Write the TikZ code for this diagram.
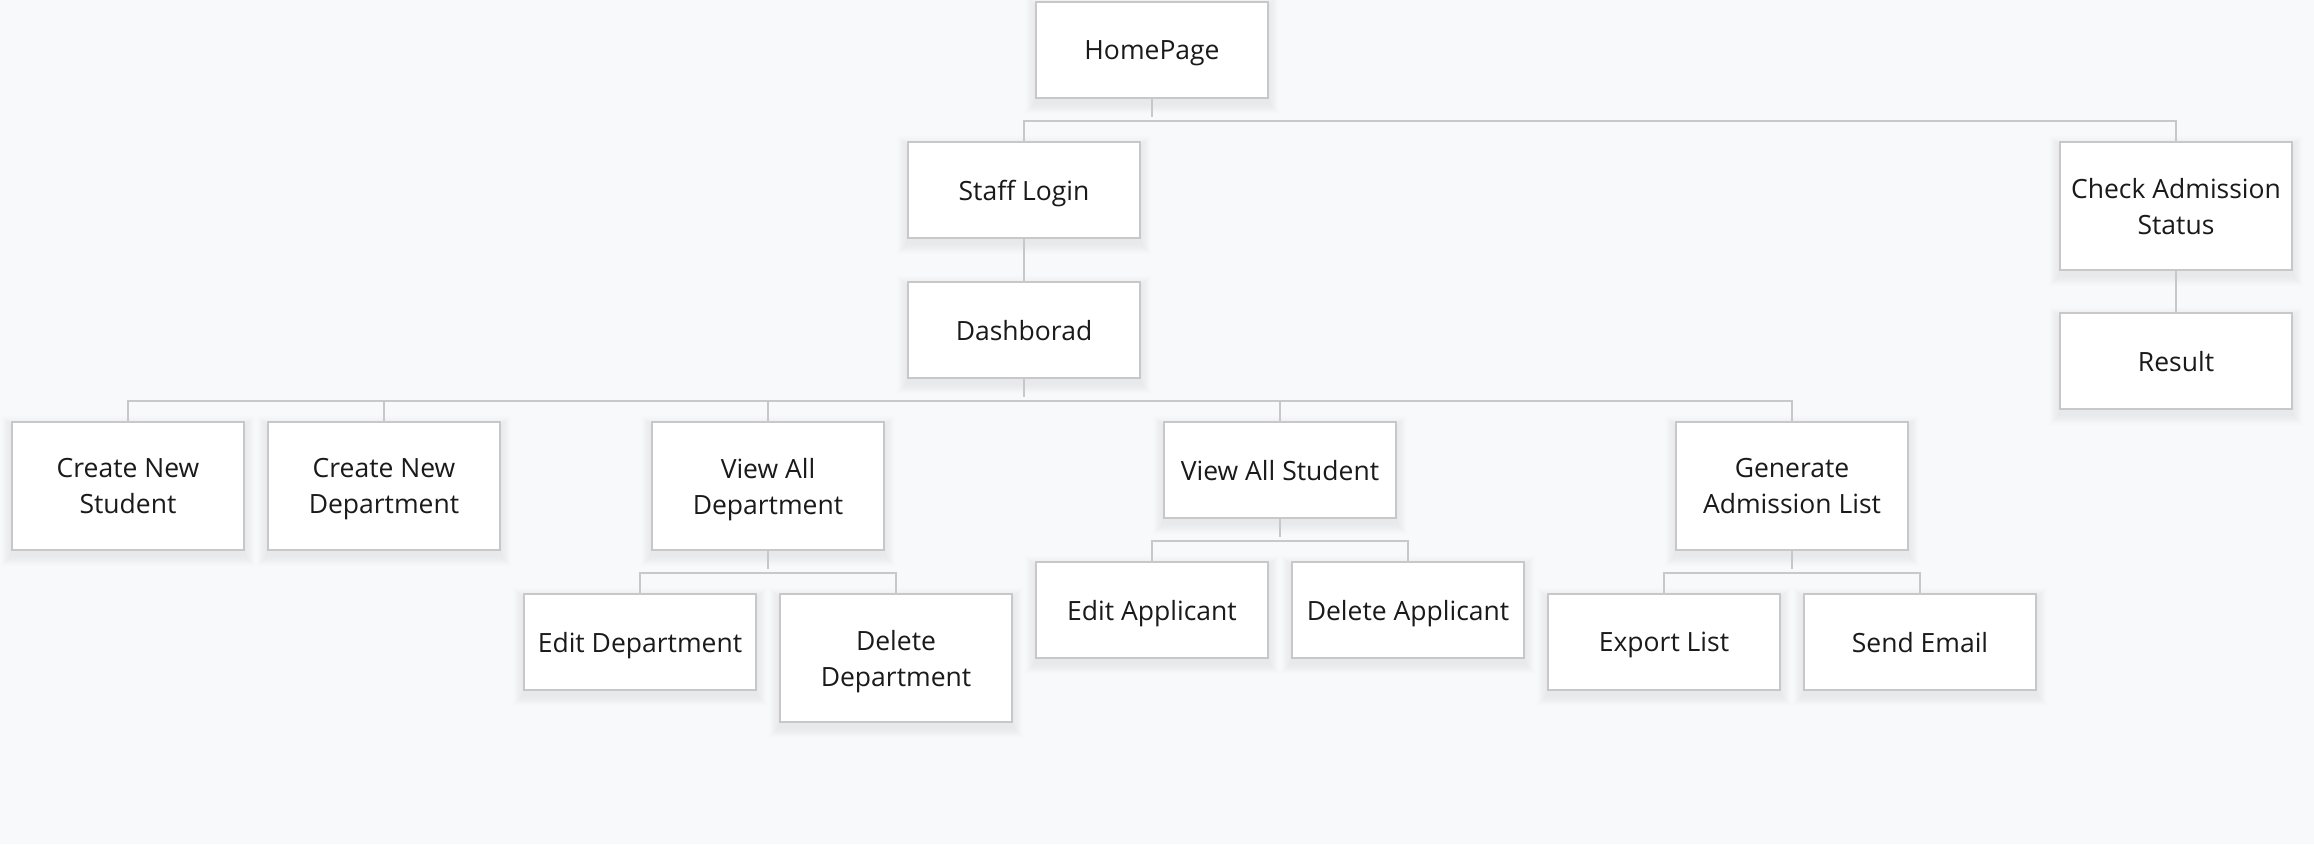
\documentclass[tikz,border=0pt]{standalone}
\usepackage{fontspec}
\setmainfont{Open Sans}
\usetikzlibrary{calc}
\pgfdeclarelayer{bg}
\pgfsetlayers{bg,main}
\definecolor{bgc}{HTML}{F8F9FB}
\definecolor{edgec}{HTML}{C8C8CA}
\definecolor{txtc}{HTML}{1A1A1A}
\tikzset{
  box/.style={draw=edgec, line width=2pt, fill=white, minimum width=232pt, minimum height=96pt,
    align=center, inner sep=0pt, text=txtc, text depth=0pt,
    font=\fontsize{26.5}{36}\selectfont},
  tall/.style={minimum height=128pt},
  conn/.style={draw=edgec, line width=2pt},
  shadowlayer/.style={fill=black, opacity=0.008}
}
\begin{document}
\begin{tikzpicture}[x=1pt,y=-1pt]
\begin{pgfonlayer}{bg}
\fill[bgc] (0,0) rectangle (2314,844);
\end{pgfonlayer}
\useasboundingbox (0,0) rectangle (2314,844);
% nodes
\node[box] (home) at (1152,50) {HomePage};
\node[box] (staff) at (1024,190) {Staff Login};
\node[box] (dash) at (1024,330) {Dashborad};
\node[box,tall] (check) at (2176,206) {Check Admission\\Status};
\node[box] (result) at (2176,361) {Result};
\node[box,tall] (cns) at (128,486) {Create New\\Student};
\node[box,tall] (cnd) at (384,486) {Create New\\Department};
\node[box,tall] (vad) at (768,486) {View All\\Department};
\node[box] (vas) at (1280,470) {View All Student};
\node[box,tall] (gal) at (1792,486) {Generate\\Admission List};
\node[box] (ed) at (640,642) {Edit Department};
\node[box,tall] (dd) at (896,658) {Delete\\Department};
\node[box] (ea) at (1152,610) {Edit Applicant};
\node[box] (da) at (1408,610) {Delete Applicant};
\node[box] (el) at (1664,642) {Export List};
\node[box] (se) at (1920,642) {Send Email};
% soft shadows
\begin{pgfonlayer}{bg}
\foreach \n in {home,staff,dash,check,result,cns,cnd,vad,vas,gal,ed,dd,ea,da,el,se}{
  \foreach \i in {1,...,8}{
    \fill[shadowlayer] ($(\n.north west)+(-1.2*\i,5-1.2*\i)$) rectangle ($(\n.south east)+(1.2*\i,5+1.2*\i)$);
  }
}
\end{pgfonlayer}
% connectors
\draw[conn] (home.south) -- ++(0,18);
\draw[conn] (staff.north) -- ++(0,-20) -| (check.north);
\draw[conn] (staff.south) -- (dash.north);
\draw[conn] (check.south) -- (result.north);
\draw[conn] (dash.south) -- ++(0,18);
\draw[conn] (cns.north) -- ++(0,-20) -| (gal.north);
\draw[conn] (cnd.north) -- ++(0,-20);
\draw[conn] (vad.north) -- ++(0,-20);
\draw[conn] (vas.north) -- ++(0,-20);
\draw[conn] (vad.south) -- ++(0,18);
\draw[conn] (ed.north) -- ++(0,-20) -| (dd.north);
\draw[conn] (vas.south) -- ++(0,18);
\draw[conn] (ea.north) -- ++(0,-20) -| (da.north);
\draw[conn] (gal.south) -- ++(0,18);
\draw[conn] (el.north) -- ++(0,-20) -| (se.north);
\end{tikzpicture}
\end{document}
